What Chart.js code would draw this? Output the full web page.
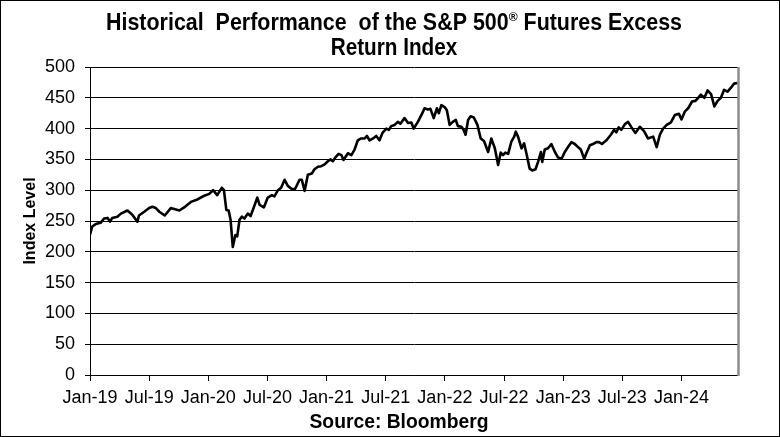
<!DOCTYPE html>
<html>
<head>
<meta charset="utf-8">
<script src="https://cdn.jsdelivr.net/npm/chart.js@4"></script>
<style>
html,body{margin:0;padding:0;background:#fff;}
#wrap{width:780px;height:437px;position:relative;}
</style>
</head>
<body>
<div id="wrap"><canvas id="c" width="780" height="437"></canvas></div>
<script>
// ---- data ----
const titleLine1A = "Historical  Performance  of the S&P 500";
const titleSup = "\u00AE";
const titleLine1B = " Futures Excess";
const titleLine2 = "Return Index";
const yAxisTitle = "Index Level";
const sourceText = "Source: Bloomberg";

const axisStart = "2019-01-01";
const axisEnd = "2024-06-23";
const tickDates = ["2019-01-01","2019-07-01","2020-01-01","2020-07-01","2021-01-01","2021-07-01","2022-01-01","2022-07-01","2023-01-01","2023-07-01","2024-01-01"];
const tickLabels = ["Jan-19","Jul-19","Jan-20","Jul-20","Jan-21","Jul-21","Jan-22","Jul-22","Jan-23","Jul-23","Jan-24"];
const yTicks = [0,50,100,150,200,250,300,350,400,450,500];

const dates = [
"2019-01-01","2019-01-08","2019-01-19","2019-02-03","2019-02-13","2019-02-23","2019-03-02","2019-03-09","2019-03-25","2019-04-05",
"2019-04-25","2019-05-10","2019-05-26","2019-05-31","2019-06-16","2019-07-01","2019-07-11","2019-07-22","2019-08-02","2019-08-19",
"2019-09-07","2019-10-03","2019-10-18","2019-11-08","2019-11-28","2019-12-19","2020-01-04","2020-01-16","2020-01-29","2020-02-12",
"2020-02-18","2020-02-25","2020-03-03","2020-03-09","2020-03-16","2020-03-24","2020-03-30","2020-04-06","2020-04-13","2020-04-21",
"2020-05-01","2020-05-10","2020-05-20","2020-05-31","2020-06-07","2020-06-20","2020-07-02","2020-07-15","2020-07-23","2020-08-03",
"2020-08-13","2020-08-24","2020-09-03","2020-09-15","2020-09-25","2020-10-09","2020-10-16","2020-10-25","2020-11-04","2020-11-16",
"2020-11-24","2020-12-05","2020-12-15","2020-12-26","2021-01-05","2021-01-14","2021-01-21","2021-01-28","2021-02-07","2021-02-15",
"2021-02-21","2021-03-06","2021-03-17","2021-03-27","2021-04-06","2021-04-16","2021-04-27","2021-05-04","2021-05-12","2021-05-23",
"2021-06-02","2021-06-12","2021-06-21","2021-07-03","2021-07-11","2021-07-18","2021-07-29","2021-08-08","2021-08-16","2021-08-29",
"2021-09-09","2021-09-19","2021-09-26","2021-10-09","2021-10-23","2021-10-30","2021-11-09","2021-11-17","2021-11-27","2021-12-07",
"2021-12-13","2021-12-21","2021-12-31","2022-01-07","2022-01-16","2022-01-26","2022-02-04","2022-02-10","2022-02-20","2022-02-26",
"2022-03-04","2022-03-12","2022-03-20","2022-03-30","2022-04-10","2022-04-20","2022-04-30","2022-05-13","2022-05-23","2022-06-03",
"2022-06-13","2022-06-21","2022-06-28","2022-07-05","2022-07-14","2022-07-24","2022-08-02","2022-08-07","2022-08-14","2022-08-25",
"2022-09-02","2022-09-09","2022-09-19","2022-09-27","2022-10-07","2022-10-15","2022-10-24","2022-10-28","2022-11-05","2022-11-15",
"2022-11-25","2022-12-06","2022-12-16","2022-12-27","2023-01-06","2023-01-16","2023-01-27","2023-02-06","2023-02-15","2023-02-23",
"2023-03-05","2023-03-12","2023-03-23","2023-04-02","2023-04-12","2023-04-20","2023-04-29","2023-05-13","2023-05-27","2023-06-06",
"2023-06-13","2023-06-20","2023-06-28","2023-07-09","2023-07-19","2023-07-30","2023-08-11","2023-08-25","2023-09-07","2023-09-19",
"2023-10-05","2023-10-16","2023-10-26","2023-11-05","2023-11-16","2023-11-29","2023-12-11","2023-12-24","2024-01-01","2024-01-12",
"2024-01-22","2024-02-03","2024-02-13","2024-02-21","2024-02-29","2024-03-11","2024-03-21","2024-04-01","2024-04-11","2024-04-21",
"2024-05-01","2024-05-11","2024-05-22","2024-06-01","2024-06-11","2024-06-22"
];
const indexLevel = [
228,241,245,247,254,255,249,255,257,262,
267,260,249,259,265,271,273,271,265,259,
271,267,272,281,285,291,294,300,292,304,
300,268,267,252,208,227,225,252,257,254,
262,258,272,288,276,272,288,292,290,300,
304,317,307,302,302,317,317,299,325,327,
334,338,339,342,347,350,347,353,359,357,
349,360,357,366,381,384,384,388,381,384,
388,381,393,400,398,404,406,411,408,417,
409,410,400,411,425,433,431,432,417,433,
425,438,435,430,406,411,414,404,403,398,
390,414,420,418,406,384,380,362,384,368,
341,361,357,361,359,379,387,395,387,368,
376,360,335,332,334,346,362,346,366,368,
375,362,353,351,362,370,378,375,370,366,
351,360,373,375,378,378,375,381,390,398,
394,402,398,407,411,402,393,403,396,384,
387,370,390,400,406,410,422,424,415,428,
433,444,445,450,455,450,462,456,436,445,
450,463,460,466,473,474
];

// months elapsed since axisStart
function monthPos(s){
  const [y,m,d] = s.split("-").map(Number);
  const [y0,m0] = axisStart.split("-").map(Number);
  const dim = new Date(y, m, 0).getDate();
  return (y - y0) * 12 + (m - m0) + (d - 1) / dim;
}
const points = dates.map((d,i)=>({x: monthPos(d), y: indexLevel[i]}));
const tickPos = tickDates.map(monthPos);

const FONT = "'Liberation Sans', Arial, Helvetica, sans-serif";

// draw text squeezed horizontally to a target width (centered at cx)
function fitText(ctx, parts, cx, base, targetW){
  let total = 0;
  parts.forEach(p => { ctx.font = p.font; p.w = ctx.measureText(p.text).width; total += p.w; });
  const sx = targetW ? Math.min(1, targetW / total) : 1;
  ctx.save();
  ctx.translate(cx - total * sx / 2, base);
  ctx.scale(sx, 1);
  ctx.textAlign = 'left';
  let x = 0;
  parts.forEach(p => { ctx.font = p.font; ctx.fillText(p.text, x, p.dy || 0); x += p.w; });
  ctx.restore();
}

const decor = {
  id: 'decor',
  afterDraw(chart){
    const ctx = chart.ctx;
    const ca = chart.chartArea;
    ctx.save();
    // right plot edge (grey)
    ctx.strokeStyle = '#8c8c8c';
    ctx.lineWidth = 2.5;
    ctx.beginPath();
    ctx.moveTo(ca.right + 0.5, ca.top);
    ctx.lineTo(ca.right + 0.5, ca.bottom + 1);
    ctx.stroke();
    // outer border
    ctx.strokeStyle = '#000';
    ctx.lineWidth = 1;
    ctx.strokeRect(0.5, 0.5, chart.width - 1, chart.height - 1);

    ctx.fillStyle = '#000';
    ctx.textBaseline = 'alphabetic';
    const big = "bold 23px " + FONT, small = "bold 13px " + FONT;
    fitText(ctx, [
      {text: titleLine1A, font: big},
      {text: titleSup, font: small, dy: -9},
      {text: titleLine1B, font: big}
    ], 394, 30, 576);
    const w1 = (function(){ ctx.font = big; return ctx.measureText(titleLine2).width; })();
    fitText(ctx, [{text: titleLine2, font: big}], 394, 55, w1 * 0.9);
    // source
    const sf = "bold 20px " + FONT;
    fitText(ctx, [{text: sourceText, font: sf}], 399, 428, 179);
    // y title
    ctx.save();
    ctx.font = "bold 16px " + FONT;
    ctx.translate(35, 221);
    ctx.rotate(-Math.PI / 2);
    ctx.textAlign = 'center';
    ctx.fillText(yAxisTitle, 0, 0);
    ctx.restore();
    ctx.restore();
  }
};

new Chart(document.getElementById('c'), {
  type: 'line',
  data: {
    datasets: [{
      data: points,
      borderColor: '#000',
      borderWidth: 2.6,
      pointRadius: 0,
      tension: 0,
      fill: false,
      borderJoinStyle: 'round'
    }]
  },
  options: {
    responsive: false,
    animation: false,
    devicePixelRatio: 1,
    layout: { padding: { left: 0, right: 42, top: 67, bottom: 0 } },
    plugins: { legend: { display: false }, tooltip: { enabled: false }, title: { display: false } },
    scales: {
      x: {
        type: 'linear',
        min: 0,
        max: monthPos(axisEnd),
        afterFit(s){ s.height = 62; },
        afterBuildTicks(s){ s.ticks = tickPos.map(v => ({value: v})); },
        ticks: {
          autoSkip: false,
          maxRotation: 0,
          minRotation: 0,
          padding: 6,
          color: '#000',
          font: { family: FONT, size: 18 },
          callback(v, i){ return tickLabels[i]; }
        },
        grid: { drawOnChartArea: false, drawTicks: true, tickLength: 6, color: '#000', lineWidth: 1 },
        border: { display: true, color: '#000', width: 1 }
      },
      y: {
        min: 0,
        max: 500,
        afterFit(s){ s.width = 90; },
        afterBuildTicks(s){ s.ticks = yTicks.map(v => ({value: v})); },
        ticks: {
          padding: 10,
          color: '#000',
          font: { family: FONT, size: 18 }
        },
        grid: { drawOnChartArea: true, drawTicks: true, tickLength: 5, color: '#000', lineWidth: 1 },
        border: { display: true, color: '#000', width: 1 }
      }
    }
  },
  plugins: [decor]
});
</script>
</body>
</html>
